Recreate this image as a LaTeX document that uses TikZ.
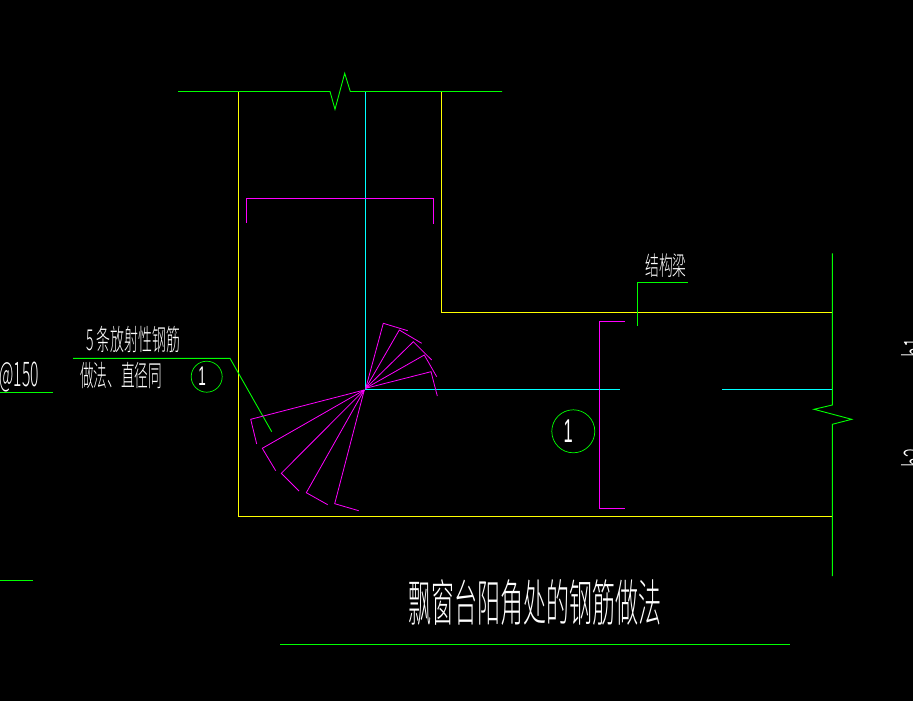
\documentclass[tikz,border=0pt]{standalone}
\usepackage{fontspec}
\setmainfont{Liberation Sans}
\newfontfamily\cjk{Noto Sans CJK SC Light}
\usepackage{graphicx}
\definecolor{cadgreen}{RGB}{0,255,0}
\definecolor{cadyellow}{RGB}{255,255,0}
\definecolor{cadcyan}{RGB}{0,255,255}
\definecolor{cadmagenta}{RGB}{255,0,255}
\tikzset{
wall/.style={cadyellow, line width=0.9pt},
axisline/.style={cadcyan, line width=0.8pt},
rebar/.style={cadmagenta, line width=0.9pt},
leader/.style={cadgreen, line width=0.9pt},
cadtext/.style={text=white, inner sep=0pt, font=\cjk},
marker/.style={circle, draw=cadgreen, text=white, line width=0.7pt, inner sep=0pt},
}
\newcommand{\narrow}[2]{\scalebox{#1}[1]{#2}}
\begin{document}
\begin{tikzpicture}[x=1pt, y=-1pt]
\useasboundingbox[fill=black] (0,0) rectangle (913,701);
\draw[wall] (238.3,91.5) -- (238.3,516.3) -- (832.3,516.3);
\draw[wall] (441.3,91.5) -- (441.3,312.3) -- (832.3,312.3);
\draw[axisline] (365.3,91.5) -- (365.3,389.3) -- (620,389.3);
\draw[axisline] (722,389.3) -- (832.3,389.3);
\draw[leader] (178,91.5) -- (330,91.5) -- (335,109.3) -- (344.7,73.3) -- (350.3,91.5) -- (502,91.5);
\draw[leader] (832.3,253.3) -- (832.3,405) -- (814,409.3) -- (851.7,419.3) -- (832.3,424.3) -- (832.3,576);
\draw[leader] (637.3,325.7) -- (637.3,282.3) -- (687.7,282.3);
\draw[leader] (73,358.3) -- (230,358.3) -- (271.7,431.7);
\draw[leader] (0,392) -- (53,392);
\draw[leader] (0,580) -- (33,580);
\draw[leader] (280,644.5) -- (790,644.5);
\draw[rebar] (246.3,222.7) -- (246.3,198.3) -- (433.3,198.3) -- (433.3,224);
\draw[rebar] (625,321.3) -- (599.3,321.3) -- (599.3,508.3) -- (625,508.3);
\coordinate (upper) at (365.7,388.3);
\coordinate (lower) at (364.3,390);
\foreach \ex/\ey/\hx/\hy in {383.3/323.3/407.7/330.7, 399.3/330/421.7/343.3, 413.3/341.7/431.7/360, 424.3/355/436.7/376.7, 431/371.7/437.3/396}
\draw[rebar, line width=0.8pt] (upper) -- (\ex,\ey) -- (\hx,\hy);
\foreach \ex/\ey/\hx/\hy in {250.7/419.3/256.7/444, 262.3/448.3/275.7/470.7, 281.3/473.3/299/491, 306.3/492.7/327.7/504.7, 334.7/503.7/358.7/510.7}
\draw[rebar, line width=0.8pt] (lower) -- (\ex,\ey) -- (\hx,\hy);
\node[marker, minimum size=43pt] (bigmark) at (573.3,431.3) {\fontsize{33}{33}\selectfont\narrow{0.5}{1}\kern 10pt};
\node[marker, minimum size=31pt] (smallmark) at (206.7,376.7) {\fontsize{27}{27}\selectfont\narrow{0.5}{1}\kern 9pt};
\node[cadtext] (title) at (534.5,603) {\fontsize{50}{50}\selectfont\narrow{0.46}{飘窗台阳角处的钢筋做法}};
\node[cadtext] (beam) at (666,266) {\fontsize{26}{26}\selectfont\narrow{0.53}{结构梁}};
\node[cadtext] (noteone) at (133.5,340) {\fontsize{29}{29}\selectfont\narrow{0.48}{5 条放射性钢筋}};
\node[cadtext] (notetwo) at (121,375.5) {\fontsize{29}{29}\selectfont\narrow{0.47}{做法、直径同}};
\node[cadtext, anchor=east] (spacing) at (39,377) {\fontsize{34}{34}\selectfont\narrow{0.46}{@150}};
\node[cadtext, rotate=90, anchor=north] (hone) at (901,347.5) {\fontsize{34}{34}\selectfont\narrow{0.5}{h1}};
\node[cadtext, rotate=90, anchor=north] (htwo) at (901,457.5) {\fontsize{34}{34}\selectfont\narrow{0.5}{h2}};
\end{tikzpicture}
\end{document}
